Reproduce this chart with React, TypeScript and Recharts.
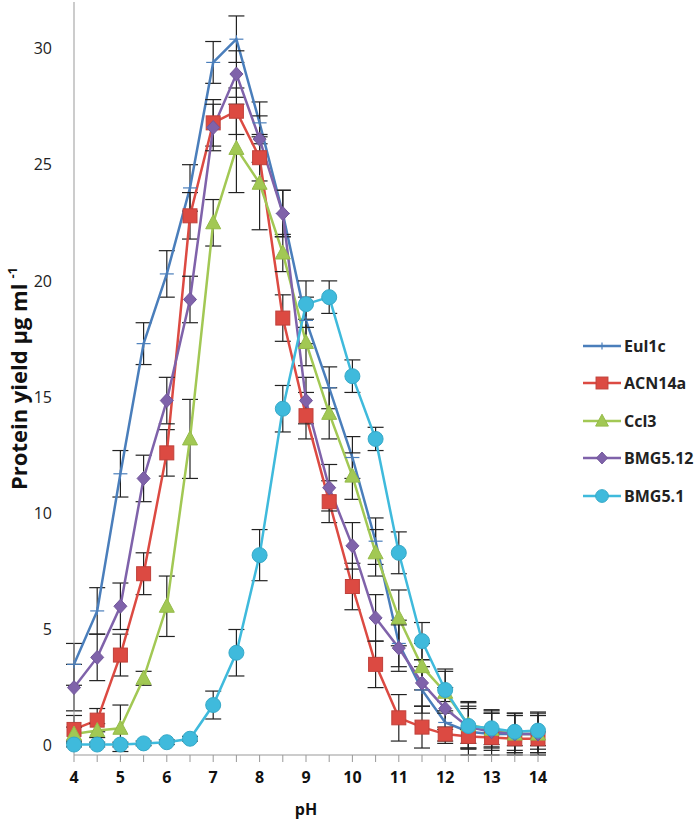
import React from "react";
import { ErrorBar, Label, Legend, Line, LineChart, XAxis, YAxis } from "recharts";

const phValues = [4, 4.5, 5, 5.5, 6, 6.5, 7, 7.5, 8, 8.5, 9, 9.5, 10, 10.5, 11, 11.5, 12, 12.5, 13, 13.5, 14];
const phTicks = phValues;
const yTicks = [0, 5, 10, 15, 20, 25, 30];

const eul1c = [3.5, 5.8, 11.7, 17.3, 20.3, 24.0, 29.4, 30.4, 26.8, 22.9, 18.3, 15.4, 12.4, 8.8, 4.4, 2.4, 1.0, 0.6, 0.5, 0.5, 0.5];
const eul1cErr = [0.9, 1.0, 1.0, 0.9, 1.0, 1.0, 0.9, 1.0, 0.9, 1.0, 1.0, 0.9, 0.9, 1.0, 1.0, 1.0, 0.9, 1.0, 0.9, 0.9, 0.9];
const acn14a = [0.7, 1.1, 3.9, 7.4, 12.6, 22.8, 26.8, 27.3, 25.3, 18.4, 14.2, 10.5, 6.85, 3.5, 1.2, 0.8, 0.5, 0.4, 0.35, 0.3, 0.3];
const acn14aErr = [0.6, 0.5, 0.9, 0.9, 1.0, 1.0, 1.0, 1.0, 1.0, 1.0, 1.0, 0.9, 1.0, 1.0, 1.0, 0.9, 0.3, 0.3, 0.3, 0.3, 0.3];
const ccl3 = [0.5, 0.65, 0.75, 2.9, 6.0, 13.2, 22.5, 25.7, 24.2, 21.2, 17.35, 14.3, 11.6, 8.3, 5.5, 3.4, 2.3, 0.9, 0.7, 0.5, 0.5];
const ccl3Err = [0.3, 0.3, 1.0, 0.3, 1.3, 1.7, 1.0, 1.9, 2.0, 0.8, 1.0, 1.1, 1.0, 1.0, 1.2, 1.0, 0.9, 1.0, 0.8, 0.8, 0.8];
const bmg512 = [2.5, 3.8, 6.0, 11.5, 14.85, 19.2, 26.6, 28.9, 26.1, 22.9, 14.85, 11.1, 8.6, 5.5, 4.2, 2.7, 1.6, 0.8, 0.6, 0.5, 0.5];
const bmg512Err = [1.0, 1.0, 1.0, 1.0, 1.0, 1.0, 1.0, 1.0, 1.0, 1.0, 1.0, 1.0, 1.0, 1.0, 1.0, 1.0, 0.9, 0.9, 0.8, 0.8, 0.8];
const bmg51 = [0.05, 0.05, 0.05, 0.1, 0.15, 0.3, 1.75, 4.0, 8.2, 14.5, 19.0, 19.3, 15.9, 13.2, 8.3, 4.5, 2.4, 0.85, 0.75, 0.6, 0.65];
const bmg51Err = [0.1, 0.1, 0.1, 0.1, 0.1, 0.1, 0.6, 1.0, 1.1, 1.0, 1.0, 0.7, 0.7, 0.5, 0.9, 0.8, 0.9, 1.0, 0.8, 0.8, 0.8];

const data = phValues.map((ph, i) => ({
  ph,
  eul1c: eul1c[i],
  eul1cErr: eul1cErr[i],
  acn14a: acn14a[i],
  acn14aErr: acn14aErr[i],
  ccl3: ccl3[i],
  ccl3Err: ccl3Err[i],
  bmg512: bmg512[i],
  bmg512Err: bmg512Err[i],
  bmg51: bmg51[i],
  bmg51Err: bmg51Err[i],
}));

type Shape = "plus" | "square" | "triangle" | "diamond" | "circle";

const series: { key: string; name: string; color: string; border: string; shape: Shape }[] = [
  { key: "eul1c", name: "Eul1c", color: "#4a7ebb", border: "#4a7ebb", shape: "plus" },
  { key: "acn14a", name: "ACN14a", color: "#dc4a42", border: "#c0403a", shape: "square" },
  { key: "ccl3", name: "Ccl3", color: "#a2c854", border: "#94bb48", shape: "triangle" },
  { key: "bmg512", name: "BMG5.12", color: "#7f62aa", border: "#71569a", shape: "diamond" },
  { key: "bmg51", name: "BMG5.1", color: "#3fbadc", border: "#36a9c8", shape: "circle" },
];

function marker(shape: Shape, cx: number, cy: number, color: string, border: string, s = 1) {
  switch (shape) {
    case "plus":
      return (
        <g stroke={color} strokeWidth={1.2}>
          <line x1={cx - 7 * s} x2={cx + 7 * s} y1={cy} y2={cy} />
          <line x1={cx} x2={cx} y1={cy - 4 * s} y2={cy + 4 * s} />
        </g>
      );
    case "square":
      return <rect x={cx - 7 * s} y={cy - 7 * s} width={14 * s} height={14 * s} fill={color} stroke={border} strokeWidth={1} />;
    case "triangle":
      return (
        <polygon
          points={`${cx},${cy - 8 * s} ${cx + 7.5 * s},${cy + 6 * s} ${cx - 7.5 * s},${cy + 6 * s}`}
          fill={color}
          stroke={border}
          strokeWidth={1}
        />
      );
    case "diamond":
      return (
        <polygon
          points={`${cx},${cy - 7 * s} ${cx + 6.5 * s},${cy} ${cx},${cy + 7 * s} ${cx - 6.5 * s},${cy}`}
          fill={color}
          stroke={border}
          strokeWidth={1}
        />
      );
    default:
      return <circle cx={cx} cy={cy} r={7.5 * s} fill={color} stroke={border} strokeWidth={1} />;
  }
}

const makeDot = (shape: Shape, color: string, border: string) => (props: any) => {
  const { cx, cy, index } = props;
  if (cx == null || cy == null) return <g key={`d-${index}`} />;
  return <g key={`d-${index}`}>{marker(shape, cx, cy, color, border)}</g>;
};

const renderLegend = () => (
  <div>
    {series.map((s) => (
      <div key={s.key} style={{ display: "flex", alignItems: "center", height: 37.5 }}>
        <svg width={38} height={20} style={{ marginRight: 3 }}>
          <line x1={0} x2={38} y1={10} y2={10} stroke={s.color} strokeWidth={2.5} />
          {marker(s.shape, 19, 10, s.color, s.border, 0.85)}
        </svg>
        <span style={{ fontFamily: "'Open Sans', sans-serif", fontWeight: 700, fontSize: 16, color: "#222" }}>{s.name}</span>
      </div>
    ))}
  </div>
);

const YTitle = (props: any) => {
  const { viewBox } = props;
  const x = viewBox.x + 27;
  const y = viewBox.y + viewBox.height / 2;
  return (
    <text
      x={x}
      y={y}
      transform={`rotate(-90, ${x}, ${y})`}
      textAnchor="middle"
      fontFamily="'Open Sans', sans-serif"
      fontWeight={700}
      fontSize={22}
      fill="#111"
    >
      Protein yield µg ml
      <tspan fontSize={13} dy={-10} dx={5}>-1</tspan>
    </text>
  );
};

export default function App() {
  return (
    <div style={{ position: "absolute", left: 0, top: 0, background: "#fff" }}>
      <LineChart width={700} height={823} data={data} margin={{ top: 2, right: 162, bottom: 8, left: 0 }}>
        <XAxis
          dataKey="ph"
          type="number"
          domain={[4, 14]}
          ticks={phTicks}
          interval={0}
          tickFormatter={(v: number) => (Number.isInteger(v) ? String(v) : "")}
          stroke="#999"
          tickSize={7}
          tick={{ fill: "#111", fontSize: 16, fontWeight: 700, fontFamily: "'Open Sans', sans-serif", dy: 8 }}
          height={60}
        >
          <Label value="pH" position="insideBottom" offset={0} fill="#111" fontSize={16} fontWeight={700} fontFamily="'Open Sans', sans-serif" />
        </XAxis>
        <YAxis
          type="number"
          domain={[0, 32]}
          ticks={yTicks}
          width={74}
          stroke="#999"
          tickLine={false}
          tick={{ fill: "#222", fontSize: 16, fontFamily: "'Open Sans', sans-serif", dx: -14 }}
        >
          <Label content={<YTitle />} />
        </YAxis>
        <Legend
          layout="horizontal"
          verticalAlign="middle"
          align="center"
          content={renderLegend}
          wrapperStyle={{ position: "absolute", left: 583, top: 327, width: 117 }}
        />
        {series.map((s) => (
          <Line
            key={s.key}
            dataKey={s.key}
            name={s.name}
            stroke={s.color}
            strokeWidth={2.5}
            dot={makeDot(s.shape, s.color, s.border)}
            activeDot={false}
            isAnimationActive={false}
          >
            <ErrorBar dataKey={`${s.key}Err`} direction="y" width={8} stroke="#222" strokeWidth={1.2} />
          </Line>
        ))}
      </LineChart>
    </div>
  );
}
